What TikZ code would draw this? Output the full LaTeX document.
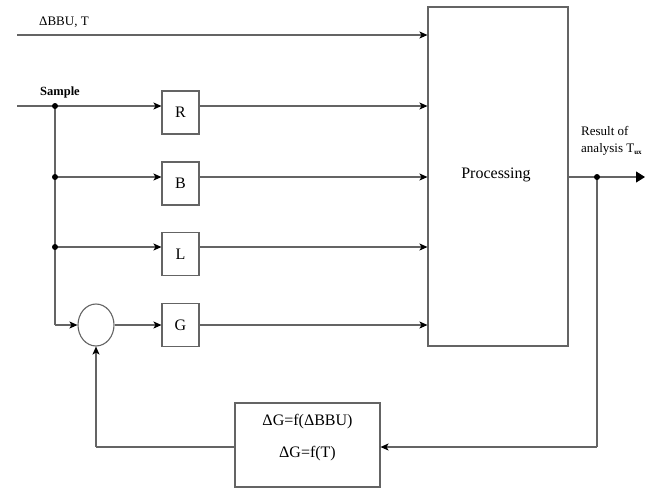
\documentclass[tikz,border=0pt]{standalone}
\usepackage{fontspec}
\setmainfont{Liberation Serif}
\usetikzlibrary{arrows.meta,shapes.geometric}
\definecolor{ln}{RGB}{100,100,100}
\tikzset{
  wire/.style={draw=ln, line width=1.1pt},
  arr/.style={wire, -{Stealth[length=8pt,width=7pt,inset=2pt,color=black]}},
  bigarr/.style={wire, -{Triangle[length=9pt,width=11pt,color=black]}},
  blk/.style={draw=ln, line width=1.1pt, fill=white, inner sep=0pt, minimum width=37pt, minimum height=43pt, font=\fontsize{16}{18}\selectfont},
  txt/.style={inner sep=0pt, font=\fontsize{16}{18}\selectfont},
  lbl/.style={inner sep=0pt, font=\fontsize{13}{17}\selectfont},
  dot/.style={circle, fill=black, inner sep=0pt, minimum size=6pt}
}
\begin{document}
\begin{tikzpicture}[x=1pt,y=-1pt]
\useasboundingbox (0,0) rectangle (650,488);
% processing box
\node[draw=ln, line width=1.1pt, minimum width=140pt, minimum height=339pt, inner sep=0pt] (P) at (498,176.5) {};
\node[txt] (Ptxt) at (496,175) {Processing};
% blocks
\node[blk] (R) at (180.5,112.5) {R};
\node[blk] (B) at (180.5,183.5) {B};
\node[blk] (L) at (180.5,254) {L};
\node[blk] (G) at (180.5,325) {G};
\node[ellipse, draw=ln, line width=1.1pt, minimum width=36pt, minimum height=42pt, inner sep=0pt] (S) at (96,325) {};
\node[draw=ln, line width=1.1pt, minimum width=145pt, minimum height=84pt, inner sep=0pt] (F) at (307.5,445) {};
\node[txt] (F1) at (307.5,422) {ΔG=f(ΔBBU)};
\node[txt] (F2) at (307.5,454) {ΔG=f(T)};
% coordinates
\coordinate (inT) at (17,35);
\coordinate (inS) at (17,106);
\coordinate (j1) at (55,106);
\coordinate (j2) at (55,177);
\coordinate (j3) at (55,247);
\coordinate (j4) at (55,325);
\coordinate (jo) at (597,177);
\coordinate (out) at (645,177);
\coordinate (c1) at (597,447);
\coordinate (c2) at (96,447);
% labels
\node[lbl, anchor=west] (lT) at (39,22) {ΔBBU, T};
\node[lbl, anchor=west, font=\bfseries\fontsize{12.5}{14}\selectfont] (lS) at (40,92) {Sample};
\node[lbl, anchor=west, align=left] (lR) at (581,141) {Result of\\analysis T\raisebox{-0.3ex}{\fontsize{7}{8}\selectfont\bfseries ux}};
% connectors
\draw[arr] (inT) -- (inT -| P.west);
\draw[wire] (inS) -- (j1);
\draw[arr] (j1) -- (R.west |- j1);
\draw[arr] (R.east |- j1) -- (P.west |- j1);
\draw[wire] (j1) -- (j2) -- (j3) -- (j4);
\draw[arr] (j2) -- (B.west |- j2);
\draw[arr] (B.east |- j2) -- (P.west |- j2);
\draw[arr] (j3) -- (L.west |- j3);
\draw[arr] (L.east |- j3) -- (P.west |- j3);
\draw[arr] (j4) -- (S.west);
\draw[arr] (S.east) -- (G.west);
\draw[arr] (G.east) -- (P.west |- G.east);
\draw[bigarr] (P.east |- jo) -- (out);
\draw[wire] (jo) -- (c1);
\draw[arr] (c1) -- (F.east |- c1);
\draw[wire] (F.west |- c2) -- (c2);
\draw[arr] (c2) -- (S.south);
% junction dots
\node[dot] (d1) at (j1) {};
\node[dot] (d2) at (j2) {};
\node[dot] (d3) at (j3) {};
\node[dot] (d4) at (jo) {};
\end{tikzpicture}
\end{document}
